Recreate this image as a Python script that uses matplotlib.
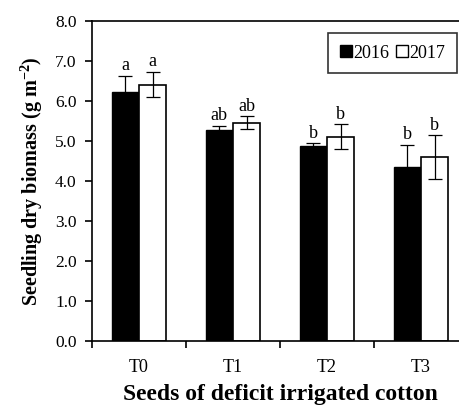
import numpy as np
import matplotlib.pyplot as plt
from matplotlib.patches import Patch

plt.rcParams['font.family'] = ['Liberation Serif', 'DejaVu Serif']

# Data
treatments = ['T0', 'T1', 'T2', 'T3']
biomass_2016 = [6.22, 5.27, 4.88, 4.36]
biomass_2017 = [6.41, 5.46, 5.11, 4.59]
err_2016 = [0.41, 0.11, 0.06, 0.55]
err_2017 = [0.32, 0.16, 0.31, 0.55]
letters_2016 = ['a', 'ab', 'b', 'b']
letters_2017 = ['a', 'ab', 'b', 'b']

fig = plt.figure(figsize=(4.6, 4.07), dpi=100)
# right edge of the axes sits just past the picture, as in the original
ax = fig.add_axes([0.2, 0.1622, 0.8174, 0.7862])

x = np.arange(len(treatments))
w = 0.29
ekw = dict(elinewidth=0.9, capsize=5, capthick=0.9, ecolor='black')
ax.bar(x - w/2, biomass_2016, w, color='black', edgecolor='black', linewidth=1,
       yerr=err_2016, error_kw=ekw)
ax.bar(x + w/2, biomass_2017, w, color='white', edgecolor='black', linewidth=1.2,
       yerr=err_2017, error_kw=ekw)

for xi, v, e, t in zip(x - w/2, biomass_2016, err_2016, letters_2016):
    ax.annotate(t, (xi, v + e), xytext=(0, 1), textcoords='offset points',
                ha='center', va='bottom', fontsize=13)
for xi, v, e, t in zip(x + w/2, biomass_2017, err_2017, letters_2017):
    ax.annotate(t, (xi, v + e), xytext=(0, 1), textcoords='offset points',
                ha='center', va='bottom', fontsize=13)

ax.set_xlim(-0.5, 3.5)
ax.set_ylim(0, 8)
ax.set_yticks(np.arange(0, 8.1, 1.0))
ax.set_yticklabels([f'{v:.1f}' for v in np.arange(0, 8.1, 1.0)])
ax.set_xticks(x)
ax.set_xticklabels(treatments)
ax.set_xticks(np.arange(-0.5, 3.6, 1.0), minor=True)
ax.tick_params(axis='x', which='major', length=0, pad=13, labelsize=13)
ax.tick_params(axis='x', which='minor', length=5, width=1.2, direction='out')
ax.tick_params(axis='y', length=5, width=1.2, direction='out', labelsize=12.5, pad=6)
for s in ax.spines.values():
    s.set_linewidth(1.2)

ax.set_xlabel('Seeds of deficit irrigated cotton', fontsize=17, fontweight='bold', labelpad=6)
ax.set_ylabel('Seedling dry biomass (g m$^{\\mathregular{-2}}$)', fontsize=14.5,
              fontweight='bold', labelpad=7)

handles = [Patch(facecolor='black', edgecolor='black', label='2016'),
           Patch(facecolor='white', edgecolor='black', label='2017')]
leg = fig.legend(handles=handles, loc='upper right', bbox_to_anchor=(0.9935, 0.919),
                 ncol=2, fontsize=13, frameon=True, fancybox=False,
                 handlelength=0.65, handleheight=0.65, handletextpad=0.1,
                 columnspacing=0.35, borderpad=0.65, borderaxespad=0)
leg.get_frame().set_edgecolor('black')
leg.get_frame().set_linewidth(1.2)

fig.savefig('out.png', dpi=100)
